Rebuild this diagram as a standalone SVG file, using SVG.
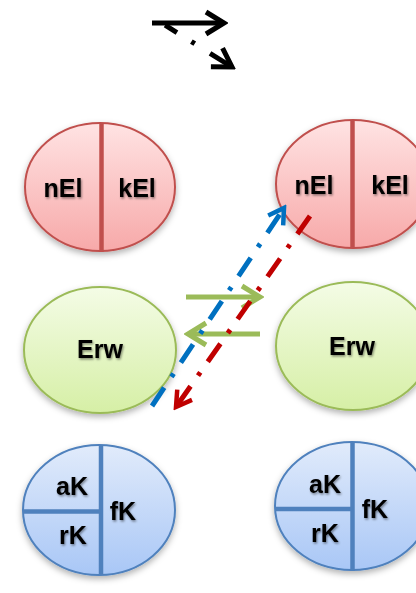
<svg xmlns="http://www.w3.org/2000/svg" width="416" height="593" viewBox="0 0 416 593">
<defs>
<linearGradient id="gRed" x1="0" y1="0" x2="0" y2="1"><stop offset="0" stop-color="#ffe3e3"/><stop offset="1" stop-color="#f7a9a9"/></linearGradient>
<linearGradient id="gGreen" x1="0" y1="0" x2="0" y2="1"><stop offset="0" stop-color="#f4fce6"/><stop offset="1" stop-color="#d6efa6"/></linearGradient>
<linearGradient id="gBlue" x1="0" y1="0" x2="0" y2="1"><stop offset="0" stop-color="#e1ebfb"/><stop offset="1" stop-color="#a9c7f6"/></linearGradient>
<filter id="sh" x="-20%" y="-20%" width="140%" height="150%"><feDropShadow dx="0" dy="3" stdDeviation="3" flood-color="#000" flood-opacity="0.3"/></filter>
<filter id="tsh" x="-20%" y="-30%" width="140%" height="160%"><feDropShadow dx="1" dy="1.5" stdDeviation="1.2" flood-color="#000" flood-opacity="0.45"/></filter>
<marker id="mBlack" markerUnits="userSpaceOnUse" viewBox="-22 -14 26 28" markerWidth="26" markerHeight="28" refX="0" refY="0" orient="auto"><path d="M-18,-11 L0,0 L-18,11" fill="none" stroke="#000" stroke-width="5" stroke-linejoin="miter"/></marker>
<marker id="mGreen" markerUnits="userSpaceOnUse" viewBox="-22 -14 26 28" markerWidth="26" markerHeight="28" refX="0" refY="0" orient="auto"><path d="M-18,-11 L0,0 L-18,11" fill="none" stroke="#9bbb59" stroke-width="5"/></marker>
<marker id="mBlue" markerUnits="userSpaceOnUse" viewBox="-22 -14 26 28" markerWidth="26" markerHeight="28" refX="0" refY="0" orient="auto"><path d="M-15,-9 L0,0 L-15,9" fill="none" stroke="#0070c0" stroke-width="4.5"/></marker>
<marker id="mRed" markerUnits="userSpaceOnUse" viewBox="-22 -14 26 28" markerWidth="26" markerHeight="28" refX="0" refY="0" orient="auto"><path d="M-15,-9 L0,0 L-15,9" fill="none" stroke="#c00000" stroke-width="4.5"/></marker>
</defs>
<style>
.red{fill:url(#gRed);stroke:#c0504d;stroke-width:2}
.green{fill:url(#gGreen);stroke:#9bbb59;stroke-width:2}
.blue{fill:url(#gBlue);stroke:#4f81bd;stroke-width:2}
.divR{stroke:#c0504d;stroke-width:4.5}
.divB{stroke:#4f81bd;stroke-width:4.5}
.t{font-family:"Liberation Sans",Arial,sans-serif;font-weight:bold;font-size:25px;fill:#000;text-anchor:middle;filter:url(#tsh)}
.dd{fill:none;stroke-width:5;stroke-dasharray:22 13 4 13}
</style>

<g id="legend">
<line x1="152" y1="23" x2="224" y2="23" stroke="#000" stroke-width="5" marker-end="url(#mBlack)"/>
<line x1="160" y1="22" x2="232" y2="67" stroke="#000" stroke-width="5" stroke-dasharray="0 6 14 17 4 18 40" marker-end="url(#mBlack)"/>
</g>

<g id="nodeRedLeft" filter="url(#sh)">
<ellipse class="red" cx="100" cy="187" rx="75" ry="64"/>
<line class="divR" x1="101.5" y1="123" x2="101.5" y2="252"/>
</g>
<g id="nodeRedLeftText"><text class="t" x="63" y="197">nEl</text><text class="t" x="137" y="197">kEl</text></g>

<g id="nodeRedRight" filter="url(#sh)">
<ellipse class="red" cx="353" cy="184" rx="77" ry="64"/>
<line class="divR" x1="352.5" y1="120" x2="352.5" y2="248"/>
</g>
<g id="nodeRedRightText"><text class="t" x="314" y="194">nEl</text><text class="t" x="390" y="194">kEl</text></g>

<g id="nodeGreenLeft">
<ellipse class="green" cx="100" cy="350" rx="76" ry="63" filter="url(#sh)"/>
<text class="t" x="100" y="358">Erw</text>
</g>

<g id="nodeGreenRight">
<ellipse class="green" cx="353" cy="346" rx="77" ry="64" filter="url(#sh)"/>
<text class="t" x="352" y="355">Erw</text>
</g>

<g id="nodeBlueLeft">
<g filter="url(#sh)">
<ellipse class="blue" cx="99" cy="510" rx="76" ry="65"/>
<line class="divB" x1="101" y1="445" x2="101" y2="575"/>
<line class="divB" x1="24" y1="511.5" x2="101" y2="511.5"/>
</g>
<text class="t" x="72" y="495">aK</text>
<text class="t" x="73" y="544">rK</text>
<text class="t" x="123" y="520">fK</text>
</g>

<g id="nodeBlueRight">
<g filter="url(#sh)">
<ellipse class="blue" cx="352" cy="506" rx="77" ry="64"/>
<line class="divB" x1="352.5" y1="442" x2="352.5" y2="571"/>
<line class="divB" x1="276" y1="509" x2="352.5" y2="509"/>
</g>
<text class="t" x="325" y="493">aK</text>
<text class="t" x="325" y="542">rK</text>
<text class="t" x="375" y="518">fK</text>
</g>

<g id="connectors">
<line x1="186" y1="297" x2="260" y2="297" stroke="#9bbb59" stroke-width="5" marker-end="url(#mGreen)"/>
<line x1="260" y1="334" x2="188" y2="334" stroke="#9bbb59" stroke-width="5" marker-end="url(#mGreen)"/>
<line class="dd" x1="152" y1="406" x2="284" y2="208" stroke="#0070c0" marker-end="url(#mBlue)"/>
<line class="dd" x1="310" y1="216" x2="176" y2="407" stroke="#c00000" marker-end="url(#mRed)"/>
</g>
</svg>
